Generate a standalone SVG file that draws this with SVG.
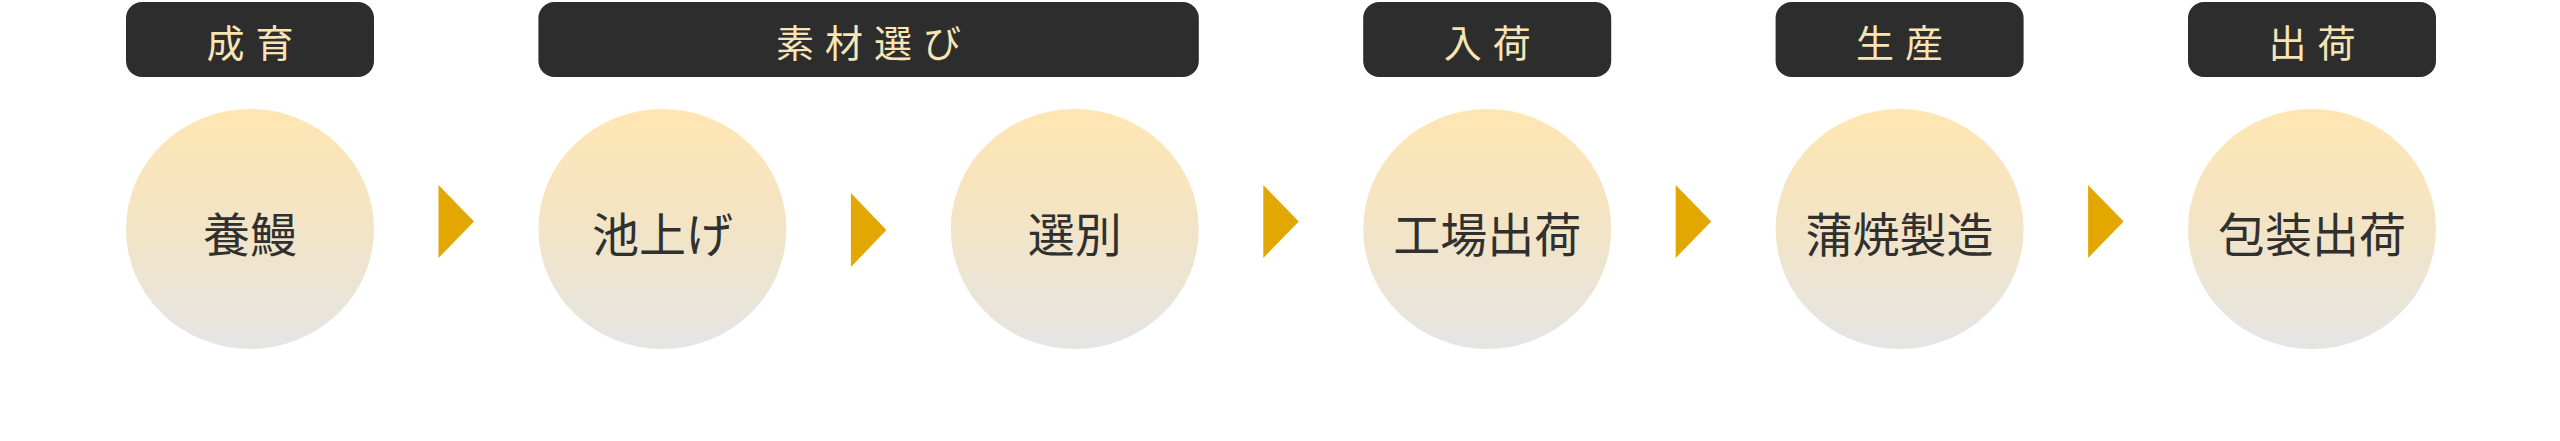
<svg xmlns="http://www.w3.org/2000/svg" width="2560" height="441" viewBox="0 0 2560 441">
<defs>
<linearGradient id="g" x1="0" y1="0" x2="0" y2="1">
<stop offset="0" stop-color="#ffe6b2"/>
<stop offset="0.5" stop-color="#f2e4c6"/>
<stop offset="1" stop-color="#e5e5e5"/>
</linearGradient>
<style>
.box{fill:#2d2d2d}
.lbl{fill:#f8e5b6;font-family:"Noto Sans CJK JP","Noto Sans CJK SC",sans-serif;font-size:38px;letter-spacing:11px;text-anchor:middle;dominant-baseline:central}
.c{fill:url(#g)}
.t{fill:#303030;font-family:"Noto Sans CJK JP","Noto Sans CJK SC",sans-serif;font-size:47px;text-anchor:middle;dominant-baseline:central}
.arr{fill:#e2a700}
</style>
</defs>
<rect width="2560" height="441" fill="#ffffff"/>
<g id="phase-seiiku"><rect class="box" x="126" y="2" width="248" height="75" rx="16"/><text class="lbl" x="255.5" y="40">成育</text></g>
<g id="phase-sozai"><rect class="box" x="538.4" y="2" width="660.4" height="75" rx="16"/><text class="lbl" x="874.1" y="40">素材選び</text></g>
<g id="phase-nyuka"><rect class="box" x="1363.2" y="2" width="248" height="75" rx="16"/><text class="lbl" x="1492.7" y="40">入荷</text></g>
<g id="phase-seisan"><rect class="box" x="1775.6" y="2" width="248" height="75" rx="16"/><text class="lbl" x="1905.1" y="40">生産</text></g>
<g id="phase-shukka"><rect class="box" x="2188" y="2" width="248" height="75" rx="16"/><text class="lbl" x="2317.5" y="40">出荷</text></g>
<g id="step-youman"><ellipse class="c" cx="250" cy="229" rx="124" ry="120"/><text class="t" x="250" y="231">養鰻</text></g>
<g id="step-ikeage"><ellipse class="c" cx="662.4" cy="229" rx="124" ry="120"/><text class="t" x="662.4" y="231">池上げ</text></g>
<g id="step-senbetsu"><ellipse class="c" cx="1074.8" cy="229" rx="124" ry="120"/><text class="t" x="1074.8" y="231">選別</text></g>
<g id="step-kojoshukka"><ellipse class="c" cx="1487.2" cy="229" rx="124" ry="120"/><text class="t" x="1487.2" y="231">工場出荷</text></g>
<g id="step-kabayaki"><ellipse class="c" cx="1899.6" cy="229" rx="124" ry="120"/><text class="t" x="1899.6" y="231">蒲焼製造</text></g>
<g id="step-housou"><ellipse class="c" cx="2312" cy="229" rx="124" ry="120"/><text class="t" x="2312" y="231">包装出荷</text></g>
<g id="connectors">
<polygon class="arr" points="438.5,185 474,221.5 438.5,258"/>
<polygon class="arr" points="850.9,193 886.4,230 850.9,267"/>
<polygon class="arr" points="1263.3,185 1298.8,221.5 1263.3,258"/>
<polygon class="arr" points="1675.7,185 1711.2,221.5 1675.7,258"/>
<polygon class="arr" points="2088.1,185 2123.6,221.5 2088.1,258"/>
</g>
</svg>
